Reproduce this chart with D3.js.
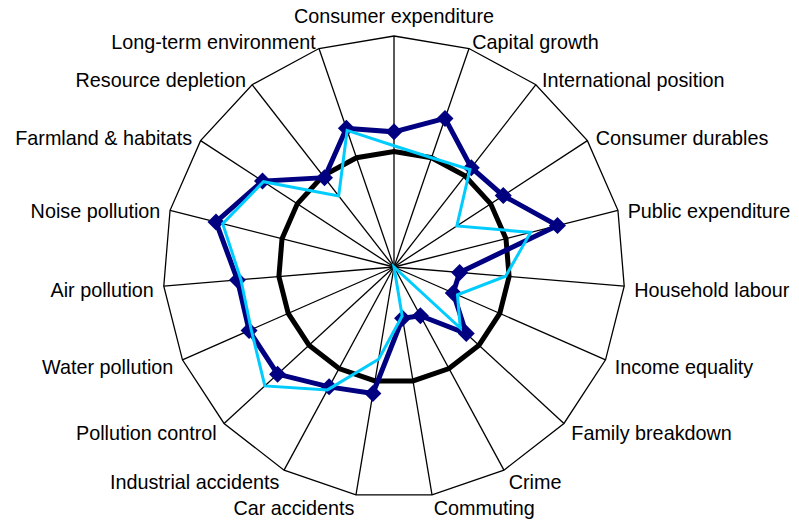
<!DOCTYPE html>
<meta charset="UTF-8">
<style>
  body { margin: 0; background: #fff; }
  .label { font: 19.8px "Liberation Sans", Arial, sans-serif; fill: #000; }
  .spoke, .frame { fill: none; stroke: #000; stroke-width: 1.3px; }
</style>
<body>
<svg id="radar" width="799" height="524"></svg>
<script src="https://d3js.org/d3.v7.min.js"></script>
<script>

// axis names, clockwise from the top
var categories = ["Consumer expenditure", "Capital growth", "International position",
  "Consumer durables", "Public expenditure", "Household labour", "Income equality",
  "Family breakdown", "Crime", "Commuting", "Car accidents", "Industrial accidents",
  "Pollution control", "Water pollution", "Air pollution", "Noise pollution",
  "Farmland & habitats", "Resource depletion", "Long-term environment"];

// reference level (thick black ring)
var baseline = [100, 100, 100, 100, 100, 100, 100, 100, 100, 100,
                100, 100, 100, 100, 100, 100, 100, 100, 100];

// dark series with diamond markers
var seriesDark = [117, 136, 109, 113, 146, 57, 56, 85, 48, 45,
                  111, 118, 137, 137, 136, 159, 136, 98, 127];

// light series, no markers
var seriesLight = [105, 100, 107, 65, 122, 97, 60, 78, 0, 43,
                   81, 121, 152, 135, 133, 153, 135, 78, 125];

var maxValue = 200;

var svg = d3.select("#radar"),
    cx = 394,
    cy = 267,
    radius = 231;

var g = svg.append("g").attr("transform", "translate(" + cx + "," + cy + ")");

var n = categories.length;
var angle = d3.scaleLinear().domain([0, n]).range([0, 2 * Math.PI]);
var r = d3.scaleLinear().domain([0, maxValue]).range([0, radius]);

function point(i, v) {
  var a = angle(i);
  return [r(v) * Math.sin(a), -r(v) * Math.cos(a)];
}

var line = d3.line().curve(d3.curveLinearClosed);

// spokes
g.selectAll(".spoke")
  .data(categories)
  .enter().append("line")
    .attr("class", "spoke")
    .attr("x1", 0).attr("y1", 0)
    .attr("x2", function(d, i) { return point(i, maxValue)[0]; })
    .attr("y2", function(d, i) { return point(i, maxValue)[1]; });

// outer frame
g.append("path")
  .attr("class", "frame")
  .attr("d", line(categories.map(function(d, i) { return point(i, maxValue); })));

function drawSeries(values, color, width) {
  g.append("path")
    .attr("d", line(values.map(function(v, i) { return point(i, v); })))
    .attr("fill", "none")
    .attr("stroke", color)
    .attr("stroke-width", width)
    .attr("stroke-linejoin", "miter");
}

drawSeries(baseline, "#000", 5);
drawSeries(seriesDark, "#000080", 5);

// diamond markers
var dm = 8.5;
g.selectAll(".marker")
  .data(seriesDark)
  .enter().append("path")
    .attr("class", "marker")
    .attr("fill", "#000080")
    .attr("d", function(v, i) {
      var p = point(i, v);
      return "M" + p[0] + "," + (p[1] - dm) + "L" + (p[0] + dm) + "," + p[1] +
             "L" + p[0] + "," + (p[1] + dm) + "L" + (p[0] - dm) + "," + p[1] + "Z";
    });

drawSeries(seriesLight, "#00CCFF", 3);

// labels
g.selectAll(".label")
  .data(categories)
  .enter().append("text")
    .attr("class", "label")
    .attr("x", function(d, i) { return point(i, maxValue)[0] * (radius + 10) / radius; })
    .attr("y", function(d, i) {
      var shift = i === 0 ? -10 : 3;
      return point(i, maxValue)[1] * (radius + 10) / radius + shift;
    })
    .attr("dy", "0.35em")
    .attr("text-anchor", function(d, i) {
      var s = Math.sin(angle(i));
      return Math.abs(s) < 0.01 ? "middle" : (s > 0 ? "start" : "end");
    })
    .text(function(d) { return d; });

</script>
</body>
